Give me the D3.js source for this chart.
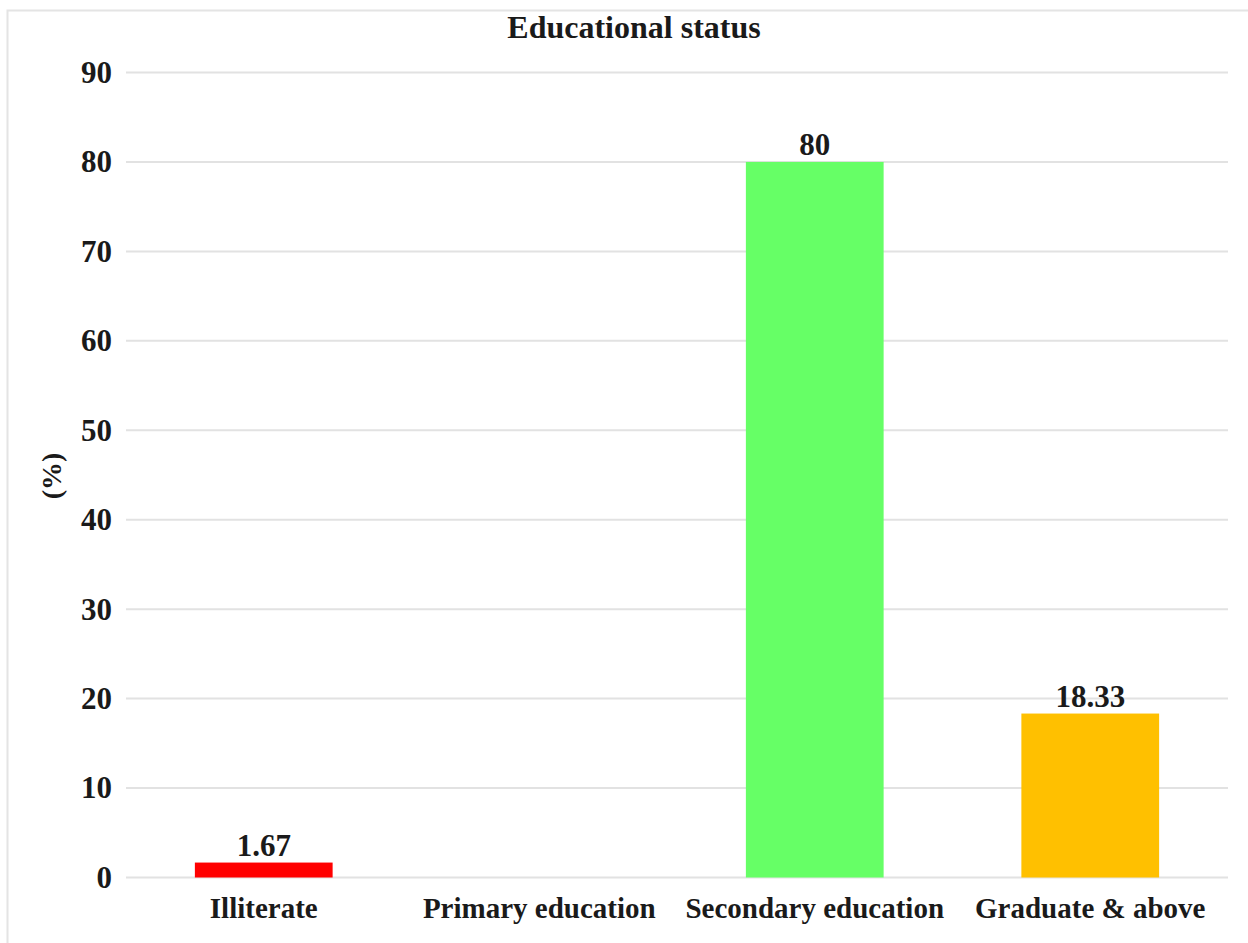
<!DOCTYPE html>
<html>
<head>
<meta charset="utf-8">
<script src="https://cdn.jsdelivr.net/npm/d3@7"></script>
<style>
  html, body { margin: 0; padding: 0; background: #fff; }
  svg { display: block; }
  text { font-family: "Liberation Serif", "Times New Roman", serif; font-weight: bold; fill: #1a1a1a; }
</style>
</head>
<body>
<svg id="chart" width="1248" height="943"></svg>
<script>
// Educational status of respondents (%)
const categories = ["Illiterate", "Primary education", "Secondary education", "Graduate & above"];
const values = [1.67, 0, 80, 18.33];
const barColors = ["#ff0000", "#00b050", "#66ff66", "#ffc000"];
const yTicks = [0, 10, 20, 30, 40, 50, 60, 70, 80, 90];
const title = "Educational status";
const yLabel = "(%)";

const svg = d3.select("#chart");

// outer chart frame
svg.append("rect")
  .attr("x", 7.5).attr("y", 10.5)
  .attr("width", 1300).attr("height", 1000)
  .attr("fill", "none")
  .attr("stroke", "#e4e4e4")
  .attr("stroke-width", 2);

const x = d3.scaleBand()
  .domain(categories)
  .range([126, 1228])
  .paddingInner(0.5)
  .paddingOuter(0.25);

const y = d3.scaleLinear()
  .domain([0, 90])
  .range([877.5, 72.5]);

// horizontal gridlines
svg.append("g")
  .selectAll("line")
  .data(yTicks)
  .join("line")
  .attr("x1", 126).attr("x2", 1228)
  .attr("y1", d => y(d)).attr("y2", d => y(d))
  .attr("stroke", "#e2e2e2")
  .attr("stroke-width", 2);

// y axis tick labels
const yAxis = d3.axisLeft(y).tickValues(yTicks).tickSize(0).tickPadding(14);
const gy = svg.append("g").attr("transform", "translate(126,0)").call(yAxis);
gy.select(".domain").remove();
gy.selectAll("text")
  .style("font-family", "'Liberation Serif', serif")
  .style("font-weight", "bold")
  .style("font-size", "31px")
  .attr("fill", "#1a1a1a");

// x axis category labels
const xAxis = d3.axisBottom(x).tickSize(0).tickPadding(20);
const gx = svg.append("g").attr("transform", `translate(0,${y(0)})`).call(xAxis);
gx.select(".domain").remove();
gx.selectAll("text")
  .style("font-family", "'Liberation Serif', serif")
  .style("font-weight", "bold")
  .style("font-size", "29px")
  .attr("fill", "#1a1a1a");

// bars
const data = categories.map((c, i) => ({ c, v: values[i], color: barColors[i] }));
svg.append("g")
  .selectAll("rect")
  .data(data)
  .join("rect")
  .attr("x", d => x(d.c))
  .attr("width", x.bandwidth())
  .attr("y", d => y(d.v))
  .attr("height", d => y(0) - y(d.v))
  .attr("fill", d => d.color);

// value labels above non-zero bars
svg.append("g")
  .selectAll("text")
  .data(data.filter(d => d.v > 0))
  .join("text")
  .attr("x", d => x(d.c) + x.bandwidth() / 2)
  .attr("y", d => y(d.v) - 7)
  .attr("text-anchor", "middle")
  .style("font-size", "31px")
  .text(d => d3.format("~g")(d.v));

// title
svg.append("text")
  .attr("x", 634).attr("y", 38)
  .attr("text-anchor", "middle")
  .style("font-size", "32px")
  .text(title);

// y axis title
svg.append("text")
  .attr("transform", "translate(61,476) rotate(-90)")
  .attr("text-anchor", "middle")
  .style("font-size", "28px")
  .text(yLabel);
</script>
</body>
</html>
